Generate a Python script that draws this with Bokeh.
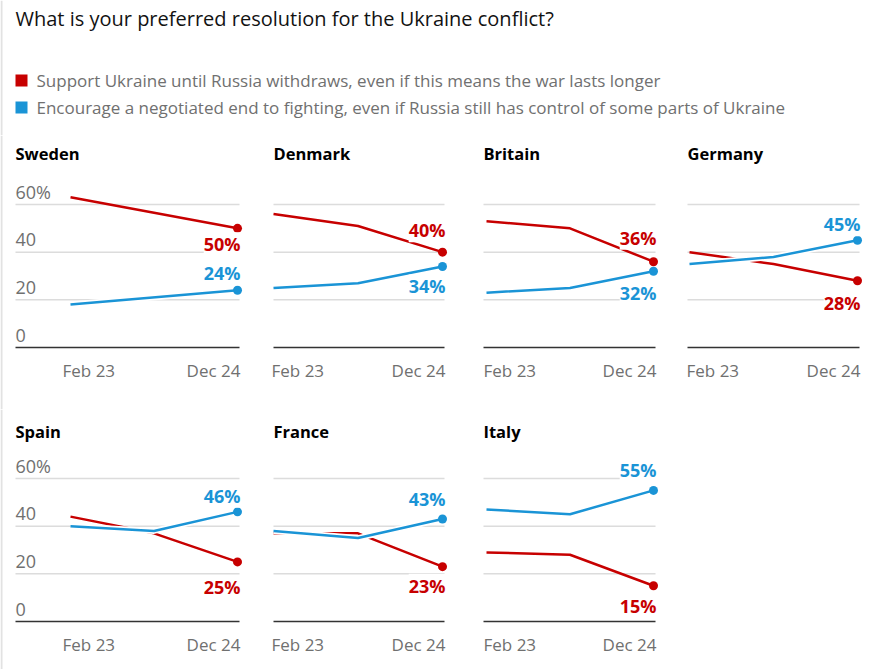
from bokeh.plotting import figure
from bokeh.layouts import column, row
from bokeh.models import Range1d, Span
from bokeh.core.properties import value
from bokeh.embed import file_html
from bokeh.resources import INLINE

# ---------------- data ----------------
TITLE = "What is your preferred resolution for the Ukraine conflict?"
SERIES_LABELS = [
    "Support Ukraine until Russia withdraws, even if this means the war lasts longer",
    "Encourage a negotiated end to fighting, even if Russia still has control of some parts of Ukraine",
]
COUNTRIES = ["Sweden", "Denmark", "Britain", "Germany", "Spain", "France", "Italy"]
WAVE_INDEX = [0, 1, 2]          # survey waves: Feb 23, (middle wave), Dec 24
X_TICK_LABELS = ["Feb 23", "Dec 24"]
Y_TICKS = [0, 20, 40, 60]
Y_TICK_LABELS = ["0", "20", "40", "60%"]

SWEDEN_SUPPORT = [63, None, 50]
SWEDEN_NEGOTIATE = [18, None, 24]
DENMARK_SUPPORT = [56, 51, 40]
DENMARK_NEGOTIATE = [25, 27, 34]
BRITAIN_SUPPORT = [53, 50, 36]
BRITAIN_NEGOTIATE = [23, 25, 32]
GERMANY_SUPPORT = [40, 35, 28]
GERMANY_NEGOTIATE = [35, 38, 45]
SPAIN_SUPPORT = [44, 37, 25]
SPAIN_NEGOTIATE = [40, 38, 46]
FRANCE_SUPPORT = [37, 37, 23]
FRANCE_NEGOTIATE = [38, 35, 43]
ITALY_SUPPORT = [29, 28, 15]
ITALY_NEGOTIATE = [47, 45, 55]

SUPPORT = [SWEDEN_SUPPORT, DENMARK_SUPPORT, BRITAIN_SUPPORT, GERMANY_SUPPORT,
           SPAIN_SUPPORT, FRANCE_SUPPORT, ITALY_SUPPORT]
NEGOTIATE = [SWEDEN_NEGOTIATE, DENMARK_NEGOTIATE, BRITAIN_NEGOTIATE, GERMANY_NEGOTIATE,
             SPAIN_NEGOTIATE, FRANCE_NEGOTIATE, ITALY_NEGOTIATE]

# ---------------- style / layout ----------------
FONT = "Open Sans"
RED = "#c70000"
BLUE = "#1a94d6"
SERIES_COLORS = [RED, BLUE]
GRID = "#dcdcdc"
BASE = "#333333"
GRAY_TXT = "#707070"
INK = "#121212"
EDGE = "#e2e2e2"

HDR_H = 135
COL_W = [258, 212, 202, 196]
DATA_PX = [(70, 237), (15, 184), (16, 183), (17, 185)]   # px of first / last wave within panel
GRID_PX = [15, 15, 13, 15]                                 # px where grid lines start
FEB_DX = [-8, -2, -3, -3]
ROW_H = [274, 260]
NAME_DY = [18, 22]
TOP_PX = 69      # px of 60 grid line from panel top
BASE_PX = 212    # px of 0 baseline from panel top
# vertical pixel offset of the end-value labels (support, negotiate)
DY_SUPPORT = [16, -22, -24, 22, 25, 19, 20]
DY_NEGOTIATE = [-17, 20, 22, -16, -16, -20, -20]


def make_panel(k):
    ci, ri = (k, 0) if k < 4 else (k - 4, 1)
    W, H = COL_W[ci], ROW_H[ri]
    d0, d1 = DATA_PX[ci]
    xs = (d1 - d0) / (WAVE_INDEX[-1] - WAVE_INDEX[0])
    ys = (BASE_PX - TOP_PX) / Y_TICKS[-1]
    x_range = Range1d(WAVE_INDEX[0] - d0 / xs, WAVE_INDEX[0] + (W - d0) / xs)
    y_range = Range1d(-(H - BASE_PX) / ys, BASE_PX / ys)
    p = figure(width=W, height=H, x_range=x_range, y_range=y_range,
               x_axis_location=None, y_axis_location=None, min_border=0,
               toolbar_location=None, output_backend="svg", outline_line_color=None)
    p.xgrid.grid_line_color = None
    p.ygrid.grid_line_color = None
    if ci == 0:
        p.add_layout(Span(location=x_range.start + 1 / xs, dimension="height",
                          line_color=EDGE, line_width=2))
    gx0 = WAVE_INDEX[0] + (GRID_PX[ci] - d0) / xs
    gx1 = WAVE_INDEX[-1] + 2 / xs
    gy = Y_TICKS[1:]
    p.segment(x0=[gx0] * len(gy), x1=[gx1] * len(gy), y0=gy, y1=gy,
              line_color=GRID, line_width=1.5)
    p.segment(x0=[gx0], x1=[gx1], y0=[Y_TICKS[0]], y1=[Y_TICKS[0]],
              line_color=BASE, line_width=1.5)
    if ci == 0:
        p.text(x=[gx0] * len(Y_TICKS), y=Y_TICKS, text=Y_TICK_LABELS,
               text_font=value(FONT), text_font_size="18px", text_color=GRAY_TXT,
               text_align="left", text_baseline="middle", y_offset=-12.5)
    p.text(x=[WAVE_INDEX[0]], y=[Y_TICKS[0]], text=[X_TICK_LABELS[0]],
           text_font=value(FONT), text_font_size="17px", text_color=GRAY_TXT,
           text_align="left", text_baseline="middle", x_offset=FEB_DX[ci], y_offset=23)
    p.text(x=[WAVE_INDEX[-1]], y=[Y_TICKS[0]], text=[X_TICK_LABELS[1]],
           text_font=value(FONT), text_font_size="17px", text_color=GRAY_TXT,
           text_align="right", text_baseline="middle", x_offset=3, y_offset=23)
    p.text(x=[gx0], y=[y_range.end], text=[COUNTRIES[k]],
           text_font=value(FONT), text_font_size="16.5px", text_font_style="bold",
           text_color="#000000", text_align="left", text_baseline="middle",
           y_offset=NAME_DY[ri])

    series = [(SUPPORT[k], RED, DY_SUPPORT[k], False), (NEGOTIATE[k], BLUE, DY_NEGOTIATE[k], True)]
    for vals, color, dy, halo in series:
        pts = [(w, v) for w, v in zip(WAVE_INDEX, vals) if v is not None]
        lx = [a for a, _ in pts]
        ly = [b for _, b in pts]
        if halo:
            p.line(lx, ly, line_color="white", line_width=6)
        p.line(lx, ly, line_color=color, line_width=2.5)
        p.scatter([lx[-1]], [ly[-1]], size=9, fill_color=color, line_color=None)
        p.text(x=[lx[-1]], y=[ly[-1]], text=[f"{ly[-1]}%"],
               text_font=value(FONT), text_font_size="18px", text_font_style="bold",
               text_color=color, text_align="right", text_baseline="middle",
               x_offset=3, y_offset=dy, background_fill_color="white")
    return p


# header: title + legend (header coordinates are pixels from its top-left)
TOTAL_W = sum(COL_W)
hdr = figure(width=TOTAL_W, height=HDR_H, x_range=Range1d(0, TOTAL_W),
             y_range=Range1d(HDR_H, 0), x_axis_location=None, y_axis_location=None,
             min_border=0, toolbar_location=None, output_backend="svg",
             outline_line_color=None)
hdr.xgrid.grid_line_color = None
hdr.ygrid.grid_line_color = None
hdr.add_layout(Span(location=1, dimension="height", line_color=EDGE, line_width=2))
hdr.text(x=[15], y=[18], text=[TITLE], text_font=value(FONT), text_font_size="20px",
         text_color=INK, text_align="left", text_baseline="middle")
LEG_Y = [80, 107]
hdr.rect(x=[21, 21], y=LEG_Y, width=12, height=12, fill_color=SERIES_COLORS, line_color=None)
hdr.text(x=[36, 36], y=LEG_Y, text=SERIES_LABELS, text_font=value(FONT),
         text_font_size="17px", text_color=GRAY_TXT, text_align="left",
         text_baseline="middle")

panels = [make_panel(k) for k in range(len(COUNTRIES))]
layout = column(hdr, row(*panels[:4]), row(*panels[4:]))

open("out.html", "w").write(file_html(layout, INLINE))
